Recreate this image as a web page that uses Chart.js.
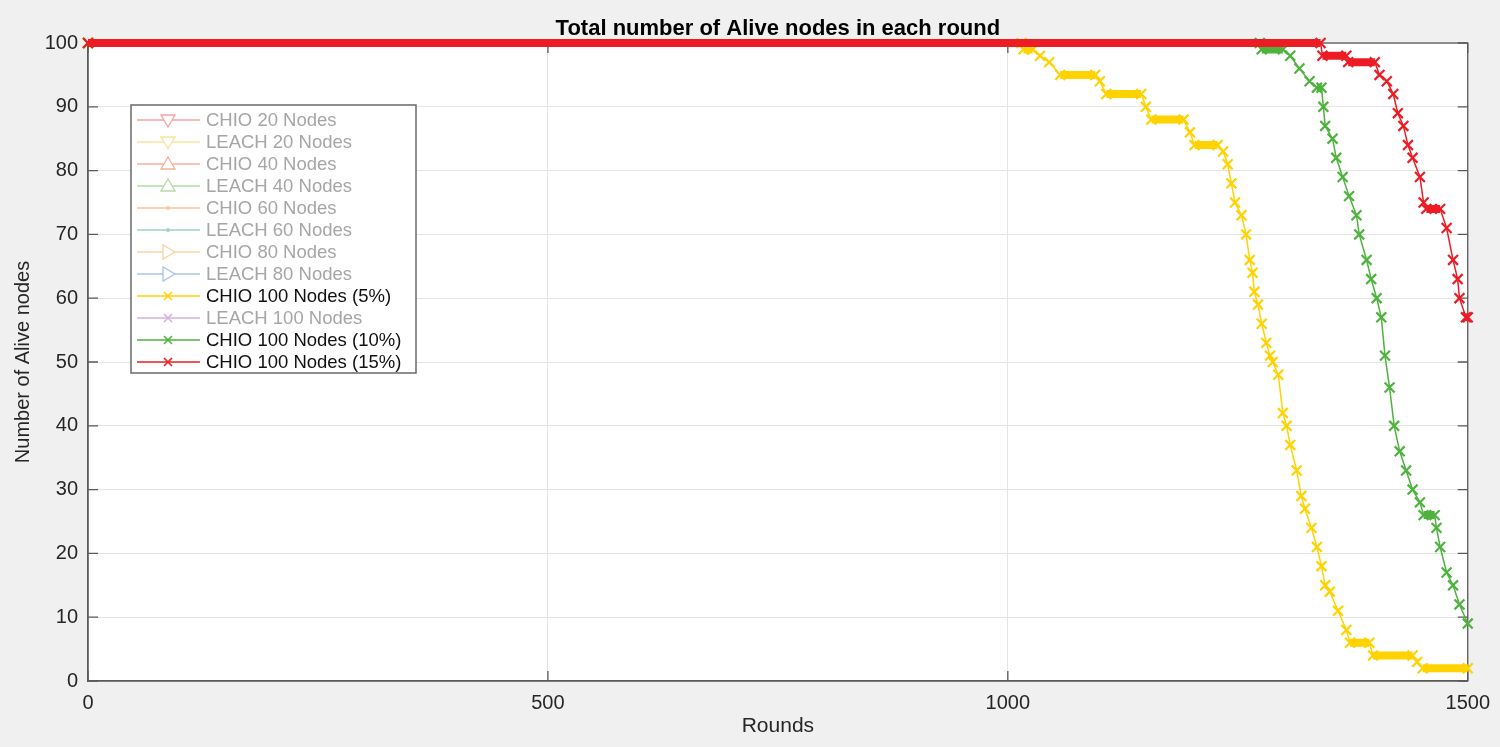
<!DOCTYPE html>
<html>
<head>
<meta charset="utf-8">
<script src="https://cdn.jsdelivr.net/npm/chart.js@4/dist/chart.umd.min.js"></script>
<style>
  html, body { margin: 0; padding: 0; background: #f0f0f0; }
  #grafico { display: block; }
</style>
</head>
<body>
<canvas id="grafico" width="1500" height="747"></canvas>
<script>
// etiquetas de la leyenda (solo 3 series tienen datos)
const etiquetas = ['CHIO 20 Nodes', 'LEACH 20 Nodes', 'CHIO 40 Nodes', 'LEACH 40 Nodes',
  'CHIO 60 Nodes', 'LEACH 60 Nodes', 'CHIO 80 Nodes', 'LEACH 80 Nodes',
  'CHIO 100 Nodes (5%)', 'LEACH 100 Nodes', 'CHIO 100 Nodes (10%)', 'CHIO 100 Nodes (15%)'];
const colores = ['#f4a3a3', '#fbe49a', '#f6b19c', '#b6dba2', '#f8c29c', '#9fd3c6',
  '#fbd3a0', '#a9c3ec', '#ffd200', '#d6b0e0', '#4db33d', '#ed1c24'];
const marcadores = ['down', 'down', 'up', 'up', 'dot', 'dot', 'right', 'right', 'x', 'x', 'x', 'x'];
const apagadas = [true, true, true, true, true, true, true, true, false, true, false, false];

const ticksX = [0, 500, 1000, 1500];
const ticksY = [0, 10, 20, 30, 40, 50, 60, 70, 80, 90, 100];

// CHIO 100 Nodes (5%)
const rondasAmarillo = [0, 1015, 1017, 1027, 1035, 1045, 1057, 1095, 1100, 1107, 1145, 1150, 1156, 1191, 1198, 1203, 1228,
  1234, 1239, 1243, 1247, 1254, 1259, 1263, 1266, 1268, 1272, 1276, 1281, 1285, 1288, 1294, 1299, 1303, 1307, 1314,
  1319, 1323, 1330, 1336, 1341, 1345, 1350, 1359, 1368, 1372, 1393, 1397, 1440, 1445, 1451, 1500];
const vivosAmarillo = [100, 100, 99, 99, 98, 97, 95, 95, 94, 92, 92, 90, 88, 88, 86, 84, 84,
  83, 81, 78, 75, 73, 70, 66, 64, 61, 59, 56, 53, 51, 50, 48, 42, 40, 37, 33,
  29, 27, 24, 21, 18, 15, 14, 11, 8, 6, 6, 4, 4, 3, 2, 2];

// CHIO 100 Nodes (10%)
const rondasVerde = [0, 1274, 1276, 1299, 1307, 1317, 1328, 1336, 1341, 1343, 1345, 1353, 1357, 1364, 1371, 1379, 1382,
  1390, 1395, 1401, 1406, 1410, 1415, 1420, 1426, 1433, 1440, 1448, 1452, 1464, 1466, 1470, 1477, 1484, 1491, 1500];
const vivosVerde = [100, 100, 99, 99, 98, 96, 94, 93, 93, 90, 87, 85, 82, 79, 76, 73, 70,
  66, 63, 60, 57, 51, 46, 40, 36, 33, 30, 28, 26, 26, 24, 21, 17, 15, 12, 9];

// CHIO 100 Nodes (15%)
const rondasRojo = [0, 1340, 1342, 1368, 1370, 1399, 1404, 1412, 1419, 1424, 1430, 1435, 1440, 1448, 1452, 1455, 1470,
  1477, 1484, 1489, 1491, 1498, 1500];
const vivosRojo = [100, 100, 98, 98, 97, 97, 95, 94, 92, 89, 87, 84, 82, 79, 75, 74, 74,
  71, 66, 63, 60, 57, 57];

const series = {
  8: [rondasAmarillo, vivosAmarillo],
  10: [rondasVerde, vivosVerde],
  11: [rondasRojo, vivosRojo]
};
const ordenDibujo = { 8: 2, 10: 1, 11: 0 };

const datasets = etiquetas.map((nombre, i) => {
  const s = series[i];
  return {
    label: nombre,
    data: s ? s[0].map((r, k) => ({ x: r, y: s[1][k] })) : [],
    borderColor: colores[i],
    backgroundColor: colores[i],
    borderWidth: 1.5,
    pointStyle: 'crossRot',
    pointRadius: 7,
    pointBorderWidth: 2.2,
    order: ordenDibujo[i] ?? 5,
    clip: 10,
    segment: {
      borderWidth: ctx => ctx.p0.parsed.y === ctx.p1.parsed.y ? 8 : 1.5
    }
  };
});

function dibujarMarcador(ctx, tipo, x, y, color) {
  ctx.save();
  ctx.strokeStyle = color;
  ctx.fillStyle = color;
  ctx.lineWidth = 1.3;
  ctx.beginPath();
  if (tipo === 'down') {
    ctx.moveTo(x - 7, y - 5); ctx.lineTo(x + 7, y - 5); ctx.lineTo(x, y + 7); ctx.closePath();
    ctx.fillStyle = '#fff'; ctx.fill(); ctx.stroke();
  } else if (tipo === 'up') {
    ctx.moveTo(x - 7, y + 5); ctx.lineTo(x + 7, y + 5); ctx.lineTo(x, y - 7); ctx.closePath();
    ctx.fillStyle = '#fff'; ctx.fill(); ctx.stroke();
  } else if (tipo === 'right') {
    ctx.moveTo(x - 5, y - 7); ctx.lineTo(x - 5, y + 7); ctx.lineTo(x + 7, y); ctx.closePath();
    ctx.fillStyle = '#fff'; ctx.fill(); ctx.stroke();
  } else if (tipo === 'dot') {
    ctx.arc(x, y, 2, 0, Math.PI * 2); ctx.fill();
  } else {
    ctx.lineWidth = 1.6;
    ctx.moveTo(x - 4, y - 4); ctx.lineTo(x + 4, y + 4);
    ctx.moveTo(x + 4, y - 4); ctx.lineTo(x - 4, y + 4);
    ctx.stroke();
  }
  ctx.restore();
}

const marcoMatlab = {
  id: 'marcoMatlab',
  beforeDraw(chart) {
    const { ctx, chartArea: a } = chart;
    ctx.save();
    ctx.fillStyle = '#fff';
    ctx.fillRect(a.left, a.top, a.right - a.left, a.bottom - a.top);
    ctx.restore();
  },
  beforeDatasetsDraw(chart) {
    const { ctx, chartArea: a, scales } = chart;
    ctx.save();
    ctx.strokeStyle = '#5a5a5a';
    ctx.lineWidth = 1.3;
    ctx.strokeRect(a.left, a.top, a.right - a.left, a.bottom - a.top);
    ctx.beginPath();
    ticksX.forEach(v => {
      const px = scales.x.getPixelForValue(v);
      ctx.moveTo(px, a.bottom); ctx.lineTo(px, a.bottom - 10);
      ctx.moveTo(px, a.top); ctx.lineTo(px, a.top + 10);
    });
    ticksY.forEach(v => {
      const py = scales.y.getPixelForValue(v);
      ctx.moveTo(a.left, py); ctx.lineTo(a.left + 10, py);
      ctx.moveTo(a.right, py); ctx.lineTo(a.right - 10, py);
    });
    ctx.stroke();
    ctx.restore();
  },
  afterDraw(chart) {
    const { ctx, chartArea: a } = chart;
    ctx.save();
    // titulo
    ctx.fillStyle = '#000';
    ctx.font = 'bold 22px "Liberation Sans", Arial, sans-serif';
    ctx.textAlign = 'center';
    ctx.textBaseline = 'middle';
    ctx.fillText('Total number of Alive nodes in each round', (a.left + a.right) / 2, 29);

    // leyenda
    const x0 = 131, y0 = 105, w = 285, h = 268;
    ctx.fillStyle = '#fff';
    ctx.fillRect(x0, y0, w, h);
    ctx.strokeStyle = '#6a6a6a';
    ctx.lineWidth = 1.5;
    ctx.strokeRect(x0, y0, w, h);
    ctx.font = '18.5px "Liberation Sans", Arial, sans-serif';
    ctx.textAlign = 'left';
    chart.data.datasets.forEach((d, i) => {
      const y = 120 + i * 22;
      ctx.strokeStyle = colores[i];
      ctx.lineWidth = 1.5;
      ctx.beginPath();
      ctx.moveTo(137, y); ctx.lineTo(200, y);
      ctx.stroke();
      dibujarMarcador(ctx, marcadores[i], 168, y, colores[i]);
      ctx.fillStyle = apagadas[i] ? '#a6a6a6' : '#111';
      ctx.fillText(d.label, 206, y + 1);
    });
    ctx.restore();
  }
};

const fuente = { family: '"Liberation Sans", Arial, sans-serif', size: 20 };

new Chart(document.getElementById('grafico'), {
  type: 'line',
  data: { datasets },
  plugins: [marcoMatlab],
  options: {
    responsive: false,
    animation: false,
    layout: { padding: { top: 43, right: 32, left: 0, bottom: 0 } },
    plugins: { legend: { display: false }, tooltip: { enabled: false } },
    scales: {
      x: {
        type: 'linear', min: 0, max: 1500,
        afterFit: s => { s.height = 66; },
        afterBuildTicks: s => { s.ticks = ticksX.map(v => ({ value: v })); },
        ticks: { color: '#262626', font: fuente, padding: 10, maxRotation: 0, callback: v => String(v) },
        grid: { color: '#e4e4e4', drawTicks: false },
        border: { color: '#5a5a5a', width: 1.3 },
        title: { display: true, text: 'Rounds', color: '#262626', font: { family: fuente.family, size: 21 }, padding: { top: 0, bottom: 8 } }
      },
      y: {
        min: 0, max: 100,
        afterFit: s => { s.width = 88; },
        afterBuildTicks: s => { s.ticks = ticksY.map(v => ({ value: v })); },
        ticks: { color: '#262626', font: fuente, padding: 10, callback: v => String(v) },
        grid: { color: '#e4e4e4', drawTicks: false },
        border: { color: '#5a5a5a', width: 1.3 },
        title: { display: true, text: 'Number of Alive nodes', color: '#262626', font: { family: fuente.family, size: 20 }, padding: { top: 11, bottom: 0 } }
      }
    }
  }
});
</script>
</body>
</html>
